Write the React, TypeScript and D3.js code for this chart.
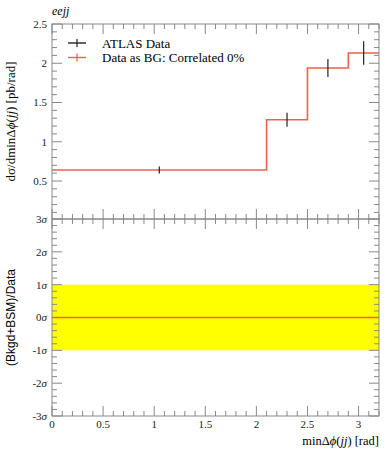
import * as d3 from "d3";

// bins: edges and values
const binEdges = [0, 2.1, 2.5, 2.9, 3.2];
const binValues = [0.64, 1.28, 1.94, 2.13];
const dataX = [1.05, 2.3, 2.7, 3.05];
const dataY = [0.64, 1.28, 1.94, 2.13];
const dataErr = [0.045, 0.09, 0.115, 0.15];

const topTicks = [0.5, 1, 1.5, 2, 2.5];
const xTicks = [0, 0.5, 1, 1.5, 2, 2.5, 3];
const xTickLabels = ["0", "0.5", "1", "1.5", "2", "2.5", "3"];
const sigmaTicks = [3, 2, 1, 0, -1, -2, -3];
const legendItems = ["ATLAS Data", "Data as BG: Correlated 0%"];

const W = 392;
const H = 450;
const left = 52;
const right = 379;
const topY0 = 24;
const split = 219;
const bottomY1 = 416;

const red = "#f0604a";
const axisColor = "#888";

export default function App() {
  const x = d3.scaleLinear([0, 3.2], [left, right]);
  const yTop = d3.scaleLinear([0.016, 2.5], [split, topY0]);
  const yBot = d3.scaleLinear([-3, 3], [bottomY1, split]);

  const minorX = d3.range(0, 3.2001, 0.1).map((v) => +v.toFixed(2));
  const minorTop = d3.range(0.1, 2.5001, 0.1).map((v) => +v.toFixed(2));
  const minorBot = d3.range(-3, 3.0001, 0.2).map((v) => +v.toFixed(2));

  const stepPts: [number, number][] = [];
  binValues.forEach((v, i) => {
    stepPts.push([binEdges[i], v]);
    stepPts.push([binEdges[i + 1], v]);
  });
  const line = d3
    .line<[number, number]>()
    .x((d) => x(d[0]))
    .y((d) => yTop(d[1]));

  const isMajorX = (v: number) => Math.abs(v * 2 - Math.round(v * 2)) < 1e-6;

  const xTickMarks = (y: number, dir: number) =>
    minorX.map((v, i) => (
      <line
        key={"xt" + y + dir + i}
        x1={x(v)}
        x2={x(v)}
        y1={y}
        y2={y + dir * (isMajorX(v) ? 10 : 5)}
        stroke={axisColor}
      />
    ));

  return (
    <svg width={W} height={H} style={{ position: "absolute", left: 0, top: 0 }}>
      <rect width={W} height={H} fill="white" />
      <text x={left} y={15} fontFamily="Liberation Serif" fontStyle="italic" fontSize={12}>
        eejj
      </text>

      {/* bottom band */}
      <rect x={left} y={yBot(1)} width={right - left} height={yBot(-1) - yBot(1)} fill="#ffff00" />
      <line x1={left} x2={right} y1={yBot(0)} y2={yBot(0)} stroke={red} strokeWidth={1.5} />

      {/* top histogram */}
      <path d={line(stepPts) ?? ""} fill="none" stroke={red} strokeWidth={1.6} />
      {dataX.map((d, i) => (
        <line
          key={"e" + i}
          x1={x(d)}
          x2={x(d)}
          y1={yTop(dataY[i] + dataErr[i])}
          y2={yTop(dataY[i] - dataErr[i])}
          stroke="#222"
          strokeWidth={1.2}
        />
      ))}

      {/* frames */}
      <rect x={left} y={topY0} width={right - left} height={split - topY0} fill="none" stroke={axisColor} />
      <rect x={left} y={split} width={right - left} height={bottomY1 - split} fill="none" stroke={axisColor} />

      {xTickMarks(topY0, 1)}
      {xTickMarks(split, -1)}
      {xTickMarks(split, 1)}
      {xTickMarks(bottomY1, -1)}

      {minorTop.map((v, i) => {
        const major = topTicks.some((t) => Math.abs(t - v) < 1e-6);
        const len = major ? 10 : 5;
        return (
          <g key={"yt" + i}>
            <line x1={left} x2={left + len} y1={yTop(v)} y2={yTop(v)} stroke={axisColor} />
            <line x1={right} x2={right - len} y1={yTop(v)} y2={yTop(v)} stroke={axisColor} />
          </g>
        );
      })}
      {minorBot.map((v, i) => {
        const major = Math.abs(v - Math.round(v)) < 1e-6;
        const len = major ? 10 : 5;
        return (
          <g key={"yb" + i}>
            <line x1={left} x2={left + len} y1={yBot(v)} y2={yBot(v)} stroke={axisColor} />
            <line x1={right} x2={right - len} y1={yBot(v)} y2={yBot(v)} stroke={axisColor} />
          </g>
        );
      })}

      {/* tick labels */}
      <g fontFamily="Liberation Serif" fontSize={11} fill="#222">
        {topTicks.map((t) => (
          <text key={"tl" + t} x={left - 5} y={yTop(t)} dy="0.35em" textAnchor="end">
            {t}
          </text>
        ))}
        {sigmaTicks.map((s) => (
          <text key={"sl" + s} x={left - 5} y={yBot(s)} dy="0.35em" textAnchor="end">
            {s}
            <tspan fontStyle="italic">σ</tspan>
          </text>
        ))}
        {xTicks.map((t, i) => (
          <text key={"xl" + t} x={x(t)} y={bottomY1 + 12} textAnchor="middle">
            {xTickLabels[i]}
          </text>
        ))}
      </g>

      {/* axis titles */}
      <text
        transform={`translate(15,${(topY0 + split) / 2}) rotate(-90)`}
        textAnchor="middle"
        fontFamily="Liberation Serif"
        fontSize={13}
      >
        dσ/dminΔ<tspan fontStyle="italic">ϕ</tspan>(<tspan fontStyle="italic">jj</tspan>) [pb/rad]
      </text>
      <text
        transform={`translate(15,${(split + bottomY1) / 2}) rotate(-90)`}
        textAnchor="middle"
        fontFamily="Liberation Sans"
        fontSize={12}
      >
        (Bkgd+BSM)/Data
      </text>
      <text x={right} y={445} textAnchor="end" fontFamily="Liberation Serif" fontSize={12.5}>
        minΔ<tspan fontStyle="italic">ϕ</tspan>(<tspan fontStyle="italic">jj</tspan>) [rad]
      </text>

      {/* legend */}
      {legendItems.map((label, i) => {
        const ly = 43 + i * 14.5;
        const c = i === 0 ? "#222" : red;
        return (
          <g key={"lg" + i}>
            <line x1={68} x2={86} y1={ly} y2={ly} stroke={c} strokeWidth={1.4} />
            <line x1={77} x2={77} y1={ly - 4} y2={ly + 4} stroke={c} strokeWidth={1.2} />
            <text x={102} y={ly} dy="0.35em" fontFamily="Liberation Serif" fontSize={13}>
              {label}
            </text>
          </g>
        );
      })}
    </svg>
  );
}
